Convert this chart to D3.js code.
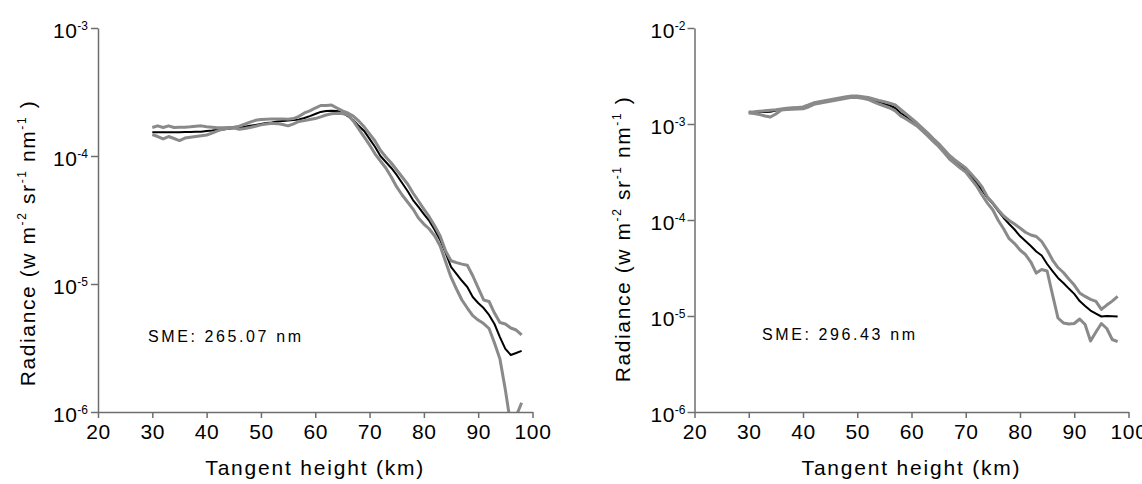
<!DOCTYPE html>
<html><head><meta charset="utf-8">
<script src="https://cdn.jsdelivr.net/npm/d3@7"></script>
<style>
body{margin:0;background:#fff}
svg{display:block}
text{font-family:"Liberation Sans",Arial,sans-serif;fill:#000}
</style>
</head><body>
<svg id="c" width="1142" height="484"></svg>
<script>
// Tangent heights (km)
const heights = [30,31,32,33,34,35,36,37,38,39,40,41,42,43,44,45,46,47,48,49,50,51,52,53,54,55,56,57,58,59,60,61,62,63,64,65,66,67,68,69,70,71,72,73,74,75,76,77,78,79,80,81,82,83,84,85,86,87,88,89,90,91,92,93,94,95,96,97,98];

// Left panel (SME 265.07 nm) radiance
const leftMean = [1.53e-4,1.53e-4,1.53e-4,1.53e-4,1.53e-4,1.53e-4,1.54e-4,1.54e-4,1.55e-4,1.55e-4,
1.57e-4,1.58e-4,1.60e-4,1.61e-4,1.63e-4,1.65e-4,1.66e-4,1.69e-4,1.72e-4,1.75e-4,
1.78e-4,1.81e-4,1.83e-4,1.86e-4,1.88e-4,1.89e-4,1.91e-4,1.93e-4,1.98e-4,2.05e-4,
2.13e-4,2.21e-4,2.25e-4,2.26e-4,2.25e-4,2.17e-4,2.05e-4,1.91e-4,1.72e-4,1.57e-4,
1.36e-4,1.18e-4,1.00e-4,8.98e-5,8.06e-5,7.11e-5,6.15e-5,5.33e-5,4.53e-5,4.00e-5,
3.52e-5,3.11e-5,2.64e-5,2.21e-5,1.75e-5,1.36e-5,1.20e-5,1.06e-5,9.48e-6,7.91e-6,
7.11e-6,6.49e-6,5.73e-6,4.87e-6,3.85e-6,3.11e-6,2.79e-6,2.89e-6,3.00e-6];
const leftGrayA = [1.67e-4,1.72e-4,1.67e-4,1.72e-4,1.67e-4,1.68e-4,1.68e-4,1.69e-4,1.71e-4,1.72e-4,
1.69e-4,1.68e-4,1.66e-4,1.66e-4,1.67e-4,1.68e-4,1.71e-4,1.77e-4,1.84e-4,1.90e-4,
1.93e-4,1.94e-4,1.95e-4,1.95e-4,1.95e-4,1.94e-4,1.96e-4,2.04e-4,2.17e-4,2.25e-4,
2.37e-4,2.48e-4,2.48e-4,2.50e-4,2.37e-4,2.25e-4,2.17e-4,2.05e-4,1.88e-4,1.69e-4,
1.49e-4,1.31e-4,1.11e-4,9.82e-5,8.82e-5,7.77e-5,6.85e-5,6.04e-5,5.14e-5,4.45e-5,
3.85e-5,3.34e-5,2.84e-5,2.37e-5,1.81e-5,1.52e-5,1.47e-5,1.43e-5,1.40e-5,1.16e-5,
9.31e-6,7.50e-6,7.30e-6,5.93e-6,5.00e-6,4.87e-6,4.53e-6,4.37e-6,4.00e-6];
const leftGrayB = [1.47e-4,1.42e-4,1.36e-4,1.42e-4,1.37e-4,1.32e-4,1.38e-4,1.40e-4,1.42e-4,1.44e-4,
1.46e-4,1.51e-4,1.57e-4,1.62e-4,1.65e-4,1.66e-4,1.62e-4,1.64e-4,1.67e-4,1.71e-4,
1.75e-4,1.78e-4,1.80e-4,1.79e-4,1.76e-4,1.72e-4,1.78e-4,1.86e-4,1.89e-4,1.93e-4,
1.96e-4,2.02e-4,2.09e-4,2.14e-4,2.16e-4,2.15e-4,2.09e-4,1.88e-4,1.63e-4,1.41e-4,
1.22e-4,1.04e-4,9.14e-5,8.06e-5,6.85e-5,5.73e-5,4.96e-5,4.37e-5,3.85e-5,3.28e-5,
2.94e-5,2.69e-5,2.37e-5,1.98e-5,1.49e-5,1.13e-5,9.14e-6,7.50e-6,6.49e-6,5.67e-6,
5.23e-6,4.91e-6,4.49e-6,3.46e-6,2.60e-6,1.49e-6,7.91e-7,9.31e-7,1.18e-6];

// Right panel (SME 296.43 nm) radiance
const rightMean = [1.318e-3,1.324e-3,1.330e-3,1.337e-3,1.343e-3,1.382e-3,1.433e-3,1.443e-3,1.450e-3,1.457e-3,
1.468e-3,1.540e-3,1.635e-3,1.675e-3,1.716e-3,1.758e-3,1.800e-3,1.843e-3,1.888e-3,1.934e-3,
1.920e-3,1.888e-3,1.843e-3,1.758e-3,1.675e-3,1.615e-3,1.558e-3,1.468e-3,1.302e-3,1.197e-3,
1.088e-3,9.88e-4,8.76e-4,7.77e-4,6.81e-4,6.04e-4,5.23e-4,4.48e-4,4.02e-4,3.65e-4,
3.32e-4,2.84e-4,2.43e-4,2.05e-4,1.70e-4,1.47e-4,1.24e-4,1.05e-4,9.08e-5,7.96e-5,
6.81e-5,6.04e-5,5.36e-5,4.70e-5,4.27e-5,3.48e-5,2.94e-5,2.49e-5,2.21e-5,1.93e-5,
1.70e-5,1.43e-5,1.27e-5,1.14e-5,1.06e-5,9.88e-6,1.00e-5,9.93e-6,9.88e-6];
const rightGrayA = [1.334e-3,1.343e-3,1.359e-3,1.372e-3,1.389e-3,1.405e-3,1.433e-3,1.457e-3,1.475e-3,1.489e-3,
1.503e-3,1.577e-3,1.663e-3,1.703e-3,1.745e-3,1.787e-3,1.830e-3,1.875e-3,1.920e-3,1.957e-3,
1.957e-3,1.925e-3,1.888e-3,1.821e-3,1.758e-3,1.703e-3,1.647e-3,1.577e-3,1.416e-3,1.271e-3,
1.141e-3,1.024e-3,9.08e-4,8.06e-4,7.06e-4,6.26e-4,5.43e-4,4.70e-4,4.22e-4,3.83e-4,
3.48e-4,3.01e-4,2.61e-4,2.21e-4,1.74e-4,1.50e-4,1.27e-4,1.10e-4,9.88e-5,9.08e-5,
8.25e-5,7.45e-5,6.98e-5,6.73e-5,5.97e-5,4.87e-5,3.83e-5,3.20e-5,2.84e-5,2.43e-5,
2.10e-5,1.74e-5,1.60e-5,1.49e-5,1.42e-5,1.17e-5,1.30e-5,1.43e-5,1.60e-5];
const rightGrayB = [1.302e-3,1.286e-3,1.256e-3,1.212e-3,1.183e-3,1.271e-3,1.399e-3,1.416e-3,1.426e-3,1.433e-3,
1.440e-3,1.503e-3,1.604e-3,1.647e-3,1.687e-3,1.728e-3,1.770e-3,1.813e-3,1.857e-3,1.902e-3,
1.888e-3,1.852e-3,1.800e-3,1.703e-3,1.615e-3,1.540e-3,1.468e-3,1.366e-3,1.212e-3,1.127e-3,
1.037e-3,9.53e-4,8.46e-4,7.50e-4,6.57e-4,5.83e-4,5.05e-4,4.32e-4,3.88e-4,3.48e-4,
3.16e-4,2.67e-4,2.26e-4,1.82e-4,1.50e-4,1.27e-4,9.88e-5,8.06e-5,6.39e-5,5.69e-5,
4.87e-5,4.37e-5,3.65e-5,2.80e-5,3.05e-5,2.94e-5,1.66e-5,9.53e-6,8.46e-6,8.25e-6,
8.35e-6,9.31e-6,8.15e-6,5.49e-6,6.81e-6,8.35e-6,7.41e-6,5.69e-6,5.40e-6];

// Axis ticks and labels
const xTicks = [20,30,40,50,60,70,80,90,100];
const leftYTicks = [1e-6,1e-5,1e-4,1e-3];
const rightYTicks = [1e-6,1e-5,1e-4,1e-3,1e-2];
const smeLabels = ["SME: 265.07 nm","SME: 296.43 nm"];
const xTitle = "Tangent height (km)";

const svg = d3.select("#c");
svg.append("rect").attr("width",1142).attr("height",484).attr("fill","#fff");

const axisColor = "#6e6e6e";
const grayColor = "#8a8a8a";
const FS = 21;

const panels = [
  {x0:98, x1:532.5, yDomain:[1e-6,1e-3], yTicks:leftYTicks, mean:leftMean, grays:[leftGrayA,leftGrayB],
   sme:smeLabels[0], smeX:148, smeY:342, titleX:35, titleY:243, labelOff:10},
  {x0:694.5, x1:1128.5, yDomain:[1e-6,1e-2], yTicks:rightYTicks, mean:rightMean, grays:[rightGrayA,rightGrayB],
   sme:smeLabels[1], smeX:762, smeY:340, titleX:630, titleY:239, labelOff:9}
];

panels.forEach((p, pi) => {
  const x = d3.scaleLinear().domain([20,100]).range([p.x0, p.x1]);
  const y = d3.scaleLog().domain(p.yDomain).range([412, 28]);

  const clipId = "clip" + pi;
  svg.append("clipPath").attr("id", clipId)
    .append("rect").attr("x", p.x0).attr("y", 0).attr("width", p.x1 - p.x0 + 12).attr("height", 412);

  const line = d3.line().x((d,i) => x(heights[i])).y(d => y(d));
  const g = svg.append("g").attr("clip-path", `url(#${clipId})`);
  g.append("path").attr("d", line(p.mean)).attr("fill","none")
    .attr("stroke","#000").attr("stroke-width",2).attr("stroke-linejoin","round");
  p.grays.forEach(s => {
    g.append("path").attr("d", line(s)).attr("fill","none")
      .attr("stroke",grayColor).attr("stroke-width",3).attr("stroke-linejoin","round");
  });

  // X axis
  const gx = svg.append("g").attr("transform","translate(0,412)")
    .call(d3.axisBottom(x).tickValues(xTicks).tickSize(6).tickSizeOuter(0));
  gx.select(".domain").attr("stroke",axisColor).attr("stroke-width",1.5);
  gx.selectAll(".tick line").attr("stroke",axisColor).attr("stroke-width",1.5);
  gx.selectAll(".tick text").attr("y",27).attr("dy",0)
    .attr("font-size",FS).attr("letter-spacing",0.6).attr("fill","#000")
    .style("font-family",'"Liberation Sans",Arial,sans-serif');

  // Y axis
  const gy = svg.append("g").attr("transform",`translate(${p.x0},0)`)
    .call(d3.axisLeft(y).tickValues(p.yTicks).tickSize(7).tickSizeOuter(0).tickFormat(() => ""));
  gy.select(".domain").attr("stroke",axisColor).attr("stroke-width",1.5);
  gy.selectAll(".tick line").attr("stroke",axisColor).attr("stroke-width",1.5);
  gy.selectAll(".tick text").remove();
  gy.selectAll(".tick").each(function(d){
    const t = d3.select(this).append("text")
      .attr("x", -p.labelOff).attr("y", 9.5).attr("text-anchor","end")
      .attr("font-size",FS).attr("letter-spacing",0.5);
    t.append("tspan").text("10");
    t.append("tspan").attr("font-size",12).attr("dy",-8).attr("letter-spacing",0)
      .text("-" + Math.round(-Math.log10(d)));
  });

  // X title
  svg.append("text").attr("x",(p.x0+p.x1)/2).attr("y",475).attr("text-anchor","middle")
    .attr("font-size",FS).attr("letter-spacing",1.8).text(xTitle);

  // Y title
  const yt = svg.append("text").attr("transform",`translate(${p.titleX},${p.titleY}) rotate(-90)`)
    .attr("text-anchor","middle").attr("font-size",FS).attr("letter-spacing",1.6)
    .style("white-space","pre");
  yt.append("tspan").text("Radiance (w m");
  yt.append("tspan").attr("font-size",12).attr("dy",-9).text("-2");
  yt.append("tspan").attr("dy",9).text(" sr");
  yt.append("tspan").attr("font-size",12).attr("dy",-9).text("-1");
  yt.append("tspan").attr("dy",9).text(" nm");
  yt.append("tspan").attr("font-size",12).attr("dy",-9).text("-1");
  yt.append("tspan").attr("dy",9).text(" )");

  // SME label
  svg.append("text").attr("x",p.smeX).attr("y",p.smeY).attr("font-size",16)
    .attr("letter-spacing",2.6).style("white-space","pre").text(p.sme);
});
</script>
</body></html>
